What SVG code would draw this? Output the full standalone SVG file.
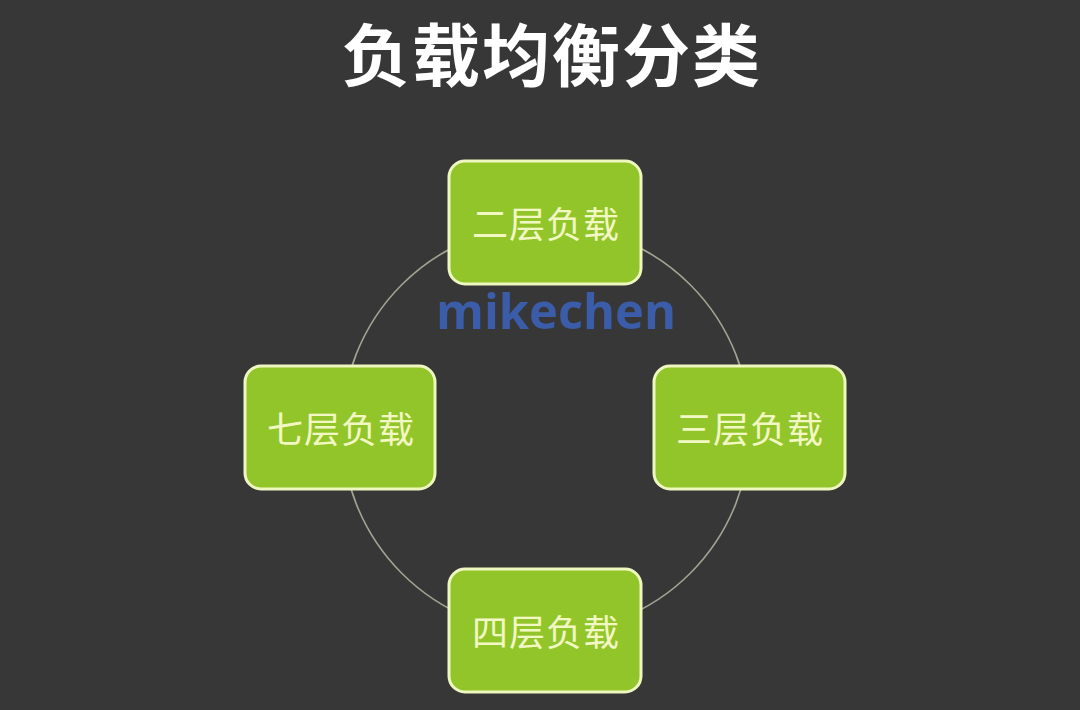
<svg xmlns="http://www.w3.org/2000/svg" width="1080" height="710" viewBox="0 0 1080 710">
<style>
.box{fill:#92c52a;stroke:#eef7c0;stroke-width:3}
.lbl{font-family:"Noto Sans CJK SC","Noto Sans",sans-serif;font-size:36px;fill:#f2f8c4;text-anchor:middle;dominant-baseline:central;letter-spacing:1px}
</style>
<rect width="1080" height="710" fill="#373737"/>
<text x="552" y="81" font-family="Noto Sans CJK SC, sans-serif" font-weight="bold" font-size="68" fill="#ffffff" text-anchor="middle" letter-spacing="2">负载均衡分类</text>
<g id="connectors">
<circle cx="546" cy="429" r="204" fill="none" stroke="#a3a392" stroke-width="1.6"/>
</g>
<text x="556" y="329" font-family="Open Sans, sans-serif" font-weight="bold" font-size="48" fill="#3b5ca8" text-anchor="middle" textLength="240" lengthAdjust="spacingAndGlyphs">mikechen</text>
<g id="n2"><rect class="box" x="449" y="161" width="192" height="123" rx="16"/><text class="lbl" x="546" y="222">二层负载</text></g>
<g id="n3"><rect class="box" x="654" y="366" width="191" height="123" rx="16"/><text class="lbl" x="750" y="427">三层负载</text></g>
<g id="n7"><rect class="box" x="245" y="366" width="190" height="123" rx="16"/><text class="lbl" x="341" y="427">七层负载</text></g>
<g id="n4"><rect class="box" x="449" y="569" width="192" height="123" rx="16"/><text class="lbl" x="546" y="630">四层负载</text></g>
</svg>
